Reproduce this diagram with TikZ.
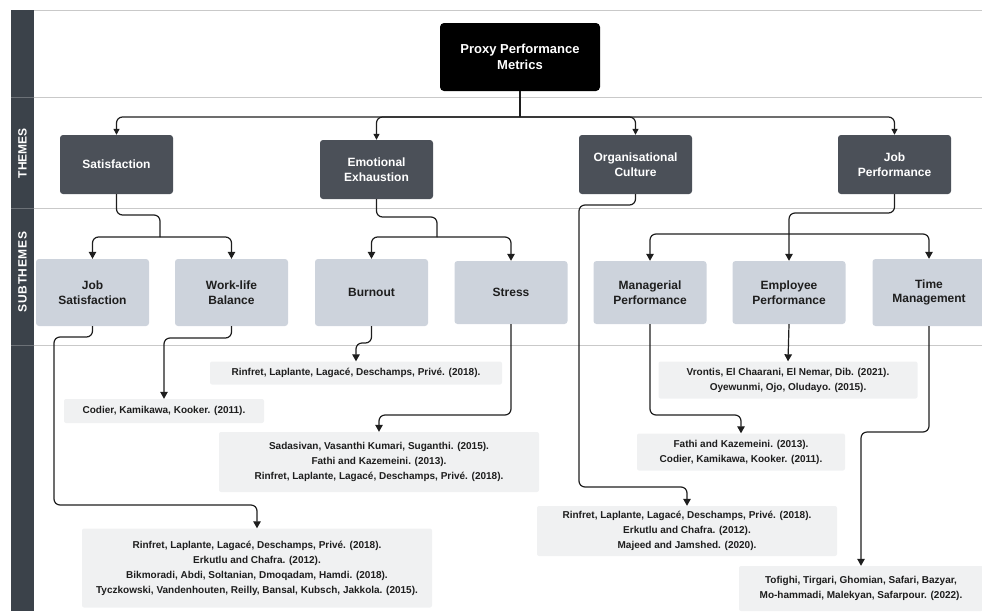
\documentclass[tikz,border=0pt]{standalone}
\usepackage{fontspec}
\setmainfont{Liberation Sans}
\usetikzlibrary{arrows.meta}
\definecolor{bandgrey}{HTML}{3B424A}
\definecolor{themegrey}{HTML}{4B5058}
\definecolor{subgrey}{HTML}{CDD3DC}
\definecolor{refgrey}{HTML}{F0F1F2}
\definecolor{rulegrey}{HTML}{C9C9C9}
\definecolor{inkgrey}{HTML}{1E1E1E}

\begin{document}
\begin{tikzpicture}[x=1pt,y=-1pt,
  theme/.style={fill=themegrey,rounded corners=3pt,minimum width=113pt,minimum height=59pt,
    inner sep=0pt,align=center,text=white,font=\fontsize{12}{14.5}\selectfont\bfseries},
  subtheme/.style={fill=subgrey,rounded corners=3pt,minimum width=113pt,minimum height=#1,
    inner sep=0pt,align=center,text=inkgrey,font=\fontsize{12}{14.5}\selectfont\bfseries},
  subtheme/.default=67pt,
  refbox/.style={fill=refgrey,rounded corners=2pt,inner sep=0pt,align=center,
    text=inkgrey,font=\fontsize{10}{15}\selectfont\bfseries},
  bandlabel/.style={rotate=90,text=white,font=\fontsize{12}{14}\selectfont\bfseries},
  conn/.style={draw=inkgrey,line width=1.2pt,rounded corners=6pt},
  arr/.style={conn,-{Triangle[length=7pt,width=7.5pt]}},
  smallarr/.style={conn,-{Triangle[length=6pt,width=6pt]}}]
\useasboundingbox (0,0) rectangle (982,611);

\fill [bandgrey] (11,10) rectangle (34,611);
\foreach \y in {10,97,208,345}
  \draw [rulegrey,line width=1pt] (34,\y) -- (982,\y);
\foreach \y in {97,208,345}
  \draw [white!25!bandgrey,line width=0.8pt] (11,\y) -- (34,\y);
\node [bandlabel] (themeslbl) at (22.5,153) {THEMES};
\node [bandlabel] (subthemeslbl) at (22.5,272) {S\kern0.6pt U\kern0.6pt B\kern0.6pt T\kern0.6pt H\kern0.6pt E\kern0.6pt M\kern0.6pt E\kern0.6pt S};

\node [fill=black,rounded corners=4pt,minimum width=160pt,minimum height=68pt,inner sep=0pt,
  align=center,text=white,font=\fontsize{13}{16}\selectfont\bfseries] (proxy) at (520,57) {Proxy Performance\\Metrics};

\node [theme] (satis) at (116.5,164.5) {Satisfaction};
\node [theme] (emoex) at (376.5,169.5) {Emotional\\Exhaustion};
\node [theme] (orgcult) at (635.5,164.5) {Organisational\\Culture};
\node [theme] (jobperf) at (894.5,164.5) {Job\\Performance};

\node [subtheme] (jobsat) at (92.5,292.5) {Job\\Satisfaction};
\node [subtheme] (wlb) at (231.5,292.5) {Work-life\\Balance};
\node [subtheme] (burnout) at (371.5,292.5) {Burnout};
\node [subtheme=63pt] (stress) at (511,292.5) {Stress};
\node [subtheme=63pt] (managerial) at (650,292.5) {Managerial\\Performance};
\node [subtheme=63pt] (employee) at (789,292.5) {Employee\\Performance};
\node [subtheme] (timemgmt) at (929,292.5) {Time\\Management};

\node [refbox,minimum width=350pt,minimum height=79pt] (refjobsat) at (257,568)
  {Rinfret, Laplante, Lagacé, Deschamps, Privé. (2018).\\Erkutlu and Chafra. (2012).\\
   Bikmoradi, Abdi, Soltanian, Dmoqadam, Hamdi. (2018).\\
   Tyczkowski, Vandenhouten, Reilly, Bansal, Kubsch, Jakkola. (2015).};
\node [refbox,minimum width=200pt,minimum height=24pt] (refwlb) at (164,411)
  {Codier, Kamikawa, Kooker. (2011).};
\node [refbox,minimum width=292pt,minimum height=23pt] (refburnout) at (356,373)
  {Rinfret, Laplante, Lagacé, Deschamps, Privé. (2018).};
\node [refbox,minimum width=320pt,minimum height=60pt] (refstress) at (379,462)
  {Sadasivan, Vasanthi Kumari, Suganthi. (2015).\\Fathi and Kazemeini. (2013).\\
   Rinfret, Laplante, Lagacé, Deschamps, Privé. (2018).};
\node [refbox,minimum width=208pt,minimum height=37pt] (refmanager) at (741,452)
  {Fathi and Kazemeini. (2013).\\Codier, Kamikawa, Kooker. (2011).};
\node [refbox,minimum width=259pt,minimum height=37pt] (refemployee) at (788,380)
  {Vrontis, El Chaarani, El Nemar, Dib. (2021).\\Oyewunmi, Ojo, Oludayo. (2015).};
\node [refbox,minimum width=244pt,minimum height=45pt] (reftime) at (861,588.5)
  {Tofighi, Tirgari, Ghomian, Safari, Bazyar,\\Mo-hammadi, Malekyan, Safarpour. (2022).};
\node [refbox,minimum width=300pt,minimum height=50pt] (reforg) at (687,531)
  {Rinfret, Laplante, Lagacé, Deschamps, Privé. (2018).\\Erkutlu and Chafra. (2012).\\
   Majeed and Jamshed. (2020).};

\coordinate (hub) at (520,117);
\draw [conn] (proxy.south) -- (hub);
\draw [smallarr] (hub) -| (satis.north);
\draw [smallarr] (hub) -| (emoex.north);
\draw [smallarr] (hub) -| (orgcult.north);
\draw [smallarr] (hub) -| (jobperf.north);

\coordinate (satjoin) at (160,237);
\draw [conn] (satis.south) |- (160,215) -- (satjoin);
\draw [arr] (satjoin) -| (jobsat.north);
\draw [arr] (satjoin) -| (wlb.north);

\coordinate (emojoin) at (437,237);
\draw [conn] (emoex.south) |- (437,217) -- (emojoin);
\draw [arr] (emojoin) -| (burnout.north);
\draw [arr] (emojoin) -| (stress.north);

\draw [arr] (orgcult.south) |- (579,205) -- (579,487) -| (reforg.north);

\coordinate (jpjoin) at (789,234);
\draw [arr] (jobperf.south) |- (789,213) -- (employee.north);
\draw [arr] (jpjoin) -| (managerial.north);
\draw [arr] (jpjoin) -| (timemgmt.north);

\draw [arr] (jobsat.south) |- (54,337) -- (54,505) -| (refjobsat.north);
\draw [arr] (wlb.south) |- (refwlb.north |- 0,338) -- (refwlb.north);
\draw [arr] (burnout.south) |- (refburnout.north |- 0,343) -- (refburnout.north);
\draw [arr] (stress.south) |- (refstress.north |- 0,415) -- (refstress.north);
\draw [arr] (managerial.south) |- (refmanager.north |- 0,415) -- (refmanager.north);
\draw [arr] (employee.south) -- (refemployee.north);
\draw [arr] (timemgmt.south) |- (reftime.north |- 0,432) -- (reftime.north);
\end{tikzpicture}
\end{document}
